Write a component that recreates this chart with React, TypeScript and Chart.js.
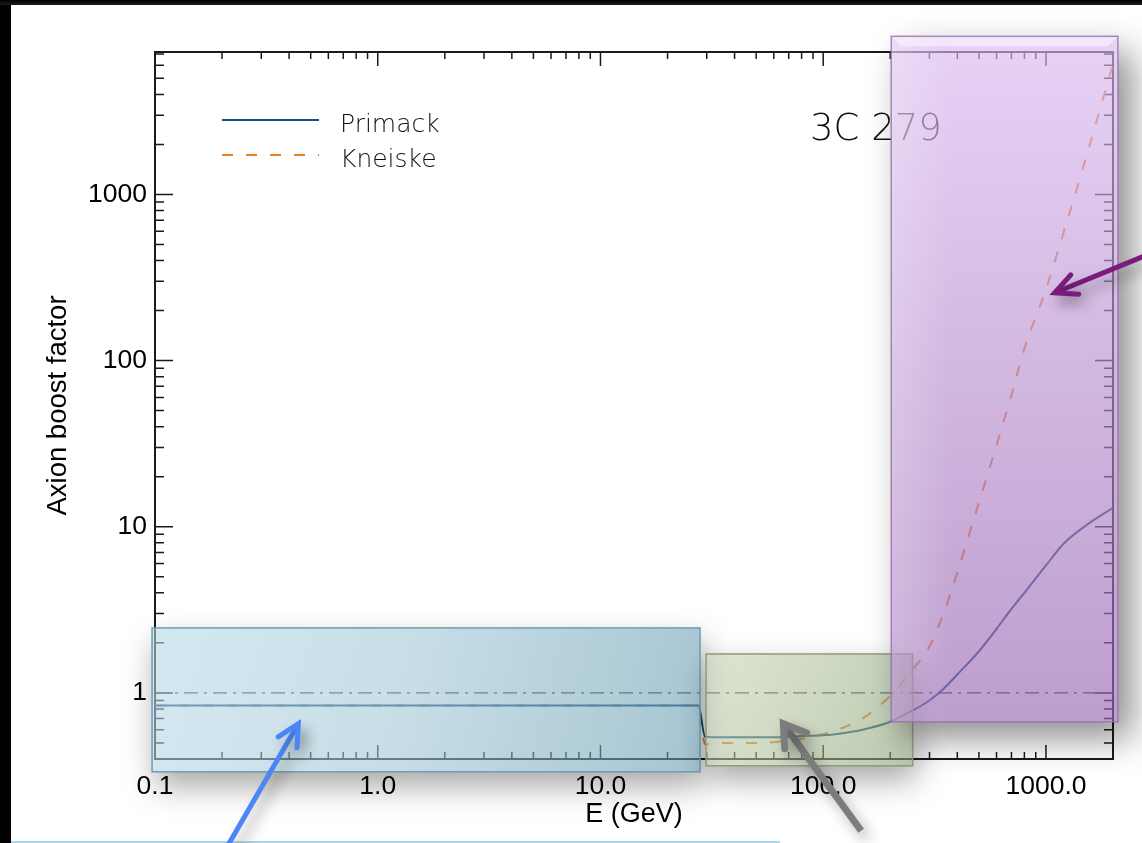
import React, { useEffect, useRef } from "react";
import { Chart, registerables } from "chart.js";

Chart.register(...registerables);

// ---------------- data ----------------
const energyGeV = [0.1, 1, 10, 27.5, 29.5, 35, 40, 50, 60, 70, 80, 100, 120, 150, 200, 250, 300, 350, 400, 500, 600, 700, 800, 1000, 1200, 1500, 2000];
const primackBoost = [0.84, 0.84, 0.84, 0.84, 0.545, 0.54, 0.54, 0.54, 0.54, 0.545, 0.55, 0.555, 0.57, 0.6, 0.67, 0.78, 0.9, 1.07, 1.29, 1.78, 2.43, 3.2, 4.0, 5.85, 7.9, 10.1, 13.0];
const kneiskeBoost = [0.84, 0.84, 0.84, 0.84, 0.49, 0.5, 0.5, 0.5, 0.505, 0.515, 0.53, 0.565, 0.61, 0.7, 0.96, 1.36, 1.9, 3.1, 5.3, 14, 31, 62, 118, 268, 590, 1600, 6100];
const unityEnergy = [0.1, 2000];
const unityBoost = [1, 1];

const xRange = [0.1, 2000];
const yRange = [0.4, 7200];
const xTickValues = [0.1, 1, 10, 100, 1000];
const xTickLabels = ["0.1", "1.0", "10.0", "100.0", "1000.0"];
const yTickValues = [1, 10, 100, 1000];
const yTickLabels = ["1", "10", "100", "1000"];

const sourceName = "3C 279";
const seriesNames = ["Primack", "Kneiske"];

// highlighted regions: [E min, E max, boost min, boost max]
const regionLowE = [0.097, 28, 0.335, 2.46];
const regionMidE = [29.8, 252, 0.364, 1.715];
const regionHighE = [202, 2104, 0.67, 8950];
// arrows: [E tail, boost tail, E tip, boost tip]
const arrowLow = [0.2, 0.105, 0.44, 0.651];
const arrowMid = [148, 0.148, 66.2, 0.651];
const arrowHigh = [3319, 471, 1095, 256];

const W = 1142;
const H = 843;
const SANS = '"Liberation Sans", Arial, Helvetica, sans-serif';
const THIN = '"DejaVu Sans", sans-serif';

function drawTicks(chart: any) {
  const { ctx, chartArea: a, scales } = chart;
  const xs = scales.x;
  const ys = scales.y;
  ctx.save();
  ctx.strokeStyle = "#1a1a1a";
  ctx.lineWidth = 1.5;
  ctx.beginPath();
  for (let d = -1; d <= 3; d++) {
    for (let m = 1; m <= 9; m++) {
      const v = m * Math.pow(10, d);
      if (v >= xRange[0] * 0.999 && v <= xRange[1] * 1.001) {
        const px = xs.getPixelForValue(v);
        const len = m === 1 ? 14 : 7;
        ctx.moveTo(px, a.bottom);
        ctx.lineTo(px, a.bottom - len);
        ctx.moveTo(px, a.top);
        ctx.lineTo(px, a.top + len);
      }
      if (v >= yRange[0] * 0.999 && v <= yRange[1] * 1.001) {
        const py = ys.getPixelForValue(v);
        const len = m === 1 ? 18 : 9;
        ctx.moveTo(a.left, py);
        ctx.lineTo(a.left + len, py);
        ctx.moveTo(a.right, py);
        ctx.lineTo(a.right - len, py);
      }
    }
  }
  ctx.stroke();
  ctx.lineWidth = 2;
  ctx.strokeRect(a.left, a.top, a.right - a.left, a.bottom - a.top);
  ctx.restore();
}

const framePlugin = {
  id: "frameTicks",
  beforeDatasetsDraw(chart: any) {
    drawTicks(chart);
  },
};

const legendPlugin = {
  id: "innerLegend",
  afterDatasetsDraw(chart: any) {
    const { ctx, chartArea: a } = chart;
    ctx.save();
    const rows = chart.data.datasets.filter((d: any) => seriesNames.includes(d.label));
    rows.forEach((ds: any, i: number) => {
      const y = a.top + 68 + i * 35;
      ctx.strokeStyle = ds.borderColor;
      ctx.lineWidth = 2;
      ctx.setLineDash(ds.borderDash || []);
      ctx.beginPath();
      ctx.moveTo(a.left + 67, y);
      ctx.lineTo(a.left + 164, y);
      ctx.stroke();
      ctx.setLineDash([]);
      ctx.fillStyle = "#111";
      ctx.font = `300 25px ${THIN}`;
      ctx.textBaseline = "alphabetic";
      ctx.textAlign = "left";
      ctx.fillText(ds.label, a.left + 185, y + 12);
    });
    ctx.font = `200 37px ${THIN}`;
    ctx.fillStyle = "#111";
    ctx.fillText(sourceName, a.left + 655, a.top + 88);
    ctx.restore();
  },
};

function boxPx(chart: any, r: number[]) {
  const xs = chart.scales.x;
  const ys = chart.scales.y;
  const x0 = xs.getPixelForValue(r[0]);
  const x1 = xs.getPixelForValue(r[1]);
  const y0 = ys.getPixelForValue(r[3]);
  const y1 = ys.getPixelForValue(r[2]);
  return { x0, y0, x1, y1, w: x1 - x0, h: y1 - y0 };
}

function boxShadow(ctx: any, b: any, dx: number, dy: number, blur: number, alpha: number) {
  const OFF = 5000;
  ctx.save();
  ctx.beginPath();
  ctx.rect(0, 0, W, H);
  ctx.rect(b.x0, b.y0, b.w, b.h);
  ctx.clip("evenodd");
  ctx.shadowColor = `rgba(0,0,0,${alpha})`;
  ctx.shadowBlur = blur;
  ctx.shadowOffsetX = OFF + dx;
  ctx.shadowOffsetY = dy;
  ctx.fillStyle = "#000";
  ctx.fillRect(b.x0 - OFF, b.y0, b.w, b.h);
  ctx.restore();
}

function drawBox(ctx: any, b: any, stops: [number, string][], border: string) {
  ctx.save();
  const g = ctx.createLinearGradient(b.x0, b.y0, b.x1, b.y1);
  stops.forEach(([o, c]) => g.addColorStop(o, c));
  ctx.fillStyle = g;
  ctx.fillRect(b.x0, b.y0, b.w, b.h);
  ctx.strokeStyle = border;
  ctx.lineWidth = 1.5;
  ctx.strokeRect(b.x0, b.y0, b.w, b.h);
  ctx.restore();
}

function drawArrow(ctx: any, chart: any, ar: number[], color: string, width: number, half: number, head: number) {
  const xs = chart.scales.x;
  const ys = chart.scales.y;
  const x1 = xs.getPixelForValue(ar[0]);
  const y1 = ys.getPixelForValue(ar[1]);
  const x2 = xs.getPixelForValue(ar[2]);
  const y2 = ys.getPixelForValue(ar[3]);
  const back = Math.atan2(y1 - y2, x1 - x2);
  ctx.save();
  ctx.shadowColor = "rgba(0,0,0,0.35)";
  ctx.shadowBlur = 14;
  ctx.shadowOffsetX = 6;
  ctx.shadowOffsetY = 8;
  ctx.strokeStyle = color;
  ctx.lineWidth = width;
  ctx.lineCap = "butt";
  ctx.lineJoin = "miter";
  ctx.beginPath();
  ctx.moveTo(x1, y1);
  ctx.lineTo(x2 + Math.cos(back) * 2, y2 + Math.sin(back) * 2);
  ctx.stroke();
  ctx.lineCap = "round";
  ctx.beginPath();
  ctx.moveTo(x2 + head * Math.cos(back - half), y2 + head * Math.sin(back - half));
  ctx.lineTo(x2, y2);
  ctx.lineTo(x2 + head * Math.cos(back + half), y2 + head * Math.sin(back + half));
  ctx.stroke();
  ctx.restore();
}

const overlayPlugin = {
  id: "overlays",
  afterDraw(chart: any) {
    const { ctx } = chart;
    const bLow = boxPx(chart, regionLowE);
    const bMid = boxPx(chart, regionMidE);
    const bHigh = boxPx(chart, regionHighE);

    boxShadow(ctx, bLow, 4, 14, 30, 0.35);
    drawBox(ctx, bLow, [
      [0, "rgba(180,215,230,0.58)"],
      [0.45, "rgba(160,198,214,0.58)"],
      [1, "rgba(100,155,176,0.58)"],
    ], "#6c9fb2");

    boxShadow(ctx, bMid, 4, 14, 30, 0.35);
    drawBox(ctx, bMid, [
      [0, "rgba(195,212,180,0.58)"],
      [0.5, "rgba(170,188,150,0.58)"],
      [1, "rgba(140,160,118,0.58)"],
    ], "#8c9c80");

    boxShadow(ctx, bHigh, 14, 16, 34, 0.45);
    ctx.save();
    const g = ctx.createLinearGradient(0, bHigh.y0, 0, bHigh.y1);
    g.addColorStop(0, "rgba(218,184,240,0.64)");
    g.addColorStop(0.5, "rgba(184,142,206,0.64)");
    g.addColorStop(1, "rgba(152,102,178,0.64)");
    ctx.fillStyle = g;
    ctx.fillRect(bHigh.x0, bHigh.y0, bHigh.w, bHigh.h);
    const gl = ctx.createLinearGradient(bHigh.x0, 0, bHigh.x0 + 60, 0);
    gl.addColorStop(0, "rgba(255,255,255,0.22)");
    gl.addColorStop(1, "rgba(255,255,255,0)");
    ctx.fillStyle = gl;
    ctx.fillRect(bHigh.x0, bHigh.y0, 60, bHigh.h);
    // top bevel
    ctx.fillStyle = "rgba(255,245,255,0.55)";
    ctx.beginPath();
    ctx.moveTo(bHigh.x0, bHigh.y0);
    ctx.lineTo(bHigh.x1, bHigh.y0);
    ctx.lineTo(bHigh.x1 - 10, bHigh.y0 + 10);
    ctx.lineTo(bHigh.x0 + 10, bHigh.y0 + 10);
    ctx.closePath();
    ctx.fill();
    ctx.strokeStyle = "rgba(150,110,175,0.8)";
    ctx.lineWidth = 1.5;
    ctx.strokeRect(bHigh.x0, bHigh.y0, bHigh.w, bHigh.h);
    ctx.restore();

    drawArrow(ctx, chart, arrowLow, "#4a86f6", 5, 0.47, 24);
    drawArrow(ctx, chart, arrowMid, "#7c7c7c", 7, 0.57, 25);
    drawArrow(ctx, chart, arrowHigh, "#7a1b7d", 5, 0.45, 24);
  },
};

export default function App() {
  const ref = useRef<HTMLCanvasElement | null>(null);

  useEffect(() => {
    if (!ref.current) return;
    const toXY = (xs: number[], ys: number[]) => xs.map((x, i) => ({ x, y: ys[i] }));
    const chart = new Chart(ref.current, {
      type: "line",
      data: {
        datasets: [
          {
            label: "unity",
            data: toXY(unityEnergy, unityBoost),
            borderColor: "#3a3a3a",
            borderWidth: 1.2,
            borderDash: [14, 6, 3, 6],
            pointRadius: 0,
            tension: 0,
          },
          {
            label: seriesNames[0],
            data: toXY(energyGeV, primackBoost),
            borderColor: "#1d4f80",
            borderWidth: 2,
            pointRadius: 0,
            cubicInterpolationMode: "monotone",
          },
          {
            label: seriesNames[1],
            data: toXY(energyGeV, kneiskeBoost),
            borderColor: "#ef7d22",
            borderWidth: 2,
            borderDash: [11, 13],
            pointRadius: 0,
            cubicInterpolationMode: "monotone",
          },
        ],
      } as any,
      options: {
        responsive: false,
        animation: false,
        layout: { padding: { top: 52, right: 29, left: 0, bottom: 0 } },
        plugins: { legend: { display: false }, tooltip: { enabled: false } },
        scales: {
          x: {
            type: "logarithmic",
            min: xRange[0],
            max: xRange[1],
            grid: { display: false, drawTicks: false },
            border: { display: false },
            afterBuildTicks: (s: any) => {
              s.ticks = xTickValues.map((v) => ({ value: v }));
            },
            afterFit: (s: any) => {
              s.height = 84;
            },
            ticks: {
              autoSkip: false,
              maxRotation: 0,
              padding: 12,
              color: "#000",
              font: { family: SANS, size: 26.5 },
              callback: (v: any) => {
                const i = xTickValues.indexOf(Number(v));
                return i >= 0 ? xTickLabels[i] : "";
              },
            },
            title: {
              display: true,
              text: "E (GeV)",
              color: "#000",
              font: { family: SANS, size: 27 },
              padding: { top: 0, bottom: 12 },
            },
          },
          y: {
            type: "logarithmic",
            min: yRange[0],
            max: yRange[1],
            grid: { display: false, drawTicks: false },
            border: { display: false },
            afterBuildTicks: (s: any) => {
              s.ticks = yTickValues.map((v) => ({ value: v }));
            },
            afterFit: (s: any) => {
              s.width = 155;
            },
            ticks: {
              autoSkip: false,
              padding: 8,
              color: "#000",
              font: { family: SANS, size: 26.5 },
              callback: (v: any) => {
                const i = yTickValues.indexOf(Number(v));
                return i >= 0 ? yTickLabels[i] : "";
              },
            },
            title: {
              display: true,
              text: "Axion boost factor",
              color: "#000",
              font: { family: SANS, size: 27.5 },
              padding: { top: 42, bottom: 0 },
            },
          },
        },
      } as any,
      plugins: [framePlugin, legendPlugin, overlayPlugin],
    });
    return () => chart.destroy();
  }, []);

  return (
    <div style={{ position: "fixed", left: 0, top: 0, width: W, height: H, background: "#000", overflow: "hidden" }}>
      <div
        style={{
          position: "absolute",
          left: 11,
          top: 5,
          right: 0,
          bottom: 0,
          background: "#fff",
        }}
      />
      <div style={{ position: "absolute", left: 0, top: 0, width: W, height: 5, background: "linear-gradient(#000, #1e1e1e)" }} />
      <div style={{ position: "absolute", left: 11, top: 841, width: 769, height: 2, background: "#b4d5e3" }} />
      <canvas ref={ref} width={W} height={H} style={{ position: "absolute", left: 0, top: 0, width: W, height: H }} />
    </div>
  );
}
